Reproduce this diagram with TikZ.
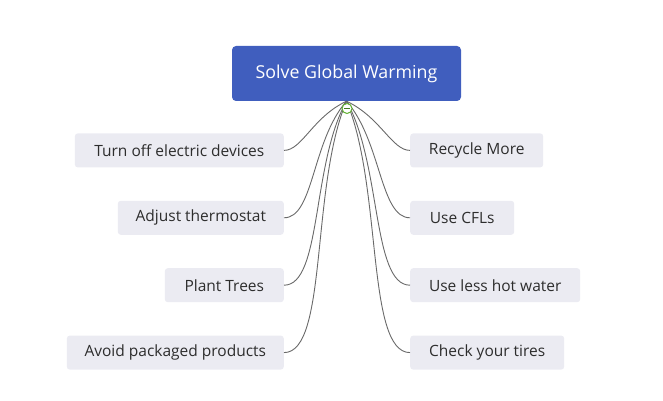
\documentclass[tikz,border=0pt]{standalone}
\usepackage{fontspec}
\setmainfont{Open Sans}
\usepackage{tikz}
\usetikzlibrary{positioning}
\definecolor{rootblue}{RGB}{64,94,190}
\definecolor{boxgray}{RGB}{235,235,242}
\definecolor{textgray}{RGB}{45,45,45}
\definecolor{linegray}{RGB}{105,105,105}
\definecolor{clpsgreen}{RGB}{96,176,48}
\tikzstyle{root} = [rectangle, fill=rootblue, text=white, rounded corners=4pt,
minimum width=229pt, minimum height=55pt, inner sep=0pt, font=\fontsize{17.8}{21}\selectfont]
\tikzstyle{block} = [rectangle, fill=boxgray, text=textgray, rounded corners=3pt,
minimum height=34pt, inner sep=0pt, font=\fontsize{15.5}{18}\selectfont]
\tikzstyle{line} = [draw=linegray, line width=0.9pt]

\begin{document}
\begin{tikzpicture}[x=1pt, y=-1pt]
    \useasboundingbox (0,0) rectangle (663,401);
    % nodes
    \node (sgw) [root] at (346.5,73.5) {Solve Global Warming};
    \node (toed) [block, minimum width=209pt, below=32pt of sgw.south, anchor=north east, xshift=-62.5pt] {Turn off electric devices};
    \node (at) [block, minimum width=166pt, below=33pt of toed.south east, anchor=north east] {Adjust thermostat};
    \node (pt) [block, minimum width=119pt, below=33pt of at.south east, anchor=north east] {Plant Trees};
    \node (app) [block, minimum width=217pt, below=33pt of pt.south east, anchor=north east] {Avoid packaged products};
    \node (rm) [block, minimum width=133pt, right=126pt of toed] {Recycle More};
    \node (ucfl) [block, minimum width=104pt, right=126pt of at] {Use CFLs};
    \node (ulhw) [block, minimum width=170pt, right=126pt of pt] {Use less hot water};
    \node (cyt) [block, minimum width=154pt, right=126pt of app] {Check your tires};

    % edges
         \path [line] (sgw.south) .. controls +(-34,16) and +(18,0) .. (toed.east);
         \path [line] (sgw.south) .. controls +(-35,40) and +(30,0) .. (at.east);
         \path [line] (sgw.south) .. controls +(-35,62) and +(38,0) .. (pt.east);
         \path [line] (sgw.south) .. controls +(-36,85) and +(44,0) .. (app.east);
         \path [line] (sgw.south) .. controls +(34,16) and +(-18,0) .. (rm.west);
         \path [line] (sgw.south) .. controls +(35,40) and +(-30,0) .. (ucfl.west);
         \path [line] (sgw.south) .. controls +(35,62) and +(-38,0) .. (ulhw.west);
         \path [line] (sgw.south) .. controls +(36,85) and +(-44,0) .. (cyt.west);

    % collapse button
    \node (clps) [circle, draw=clpsgreen, fill=white, line width=1pt, minimum size=10pt, inner sep=0pt] at (347,108.5) {};
    \draw [clpsgreen!70!black, line width=1pt] ([xshift=-3pt]clps.center) -- ([xshift=3pt]clps.center);
\end{tikzpicture}
\end{document}
